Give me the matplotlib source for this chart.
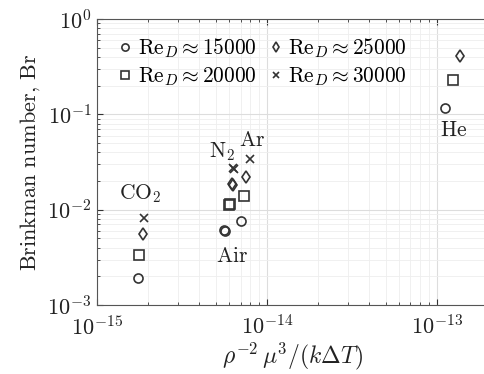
import numpy as np
import matplotlib
matplotlib.use("Agg")
import matplotlib.pyplot as plt

plt.rcParams["font.family"] = "serif"
plt.rcParams["font.serif"] = ["cmr10", "DejaVu Serif"]
plt.rcParams["mathtext.fontset"] = "cm"
plt.rcParams["axes.formatter.use_mathtext"] = True

# Reynolds numbers (one marker style each)
re_values = ["15000", "20000", "25000", "30000"]
markers = ["o", "s", "d", "x"]
msizes = [6.5, 6.5, 6.5, 5.5]

# x = rho^-2 mu^3 / (k dT), y = Brinkman number, one entry per Re
co2_x = [1.74e-15, 1.77e-15, 1.86e-15, 1.89e-15]
co2_y = [1.93e-3, 3.34e-3, 5.54e-3, 8.1e-3]
air_x = [5.6e-15, 6.0e-15, 6.2e-15, 6.3e-15]
air_y = [6.1e-3, 1.13e-2, 1.84e-2, 2.75e-2]
n2_x = [5.7e-15, 6.05e-15, 6.3e-15, 6.4e-15]
n2_y = [6.0e-3, 1.15e-2, 1.8e-2, 2.7e-2]
ar_x = [7.0e-15, 7.3e-15, 7.5e-15, 8.0e-15]
ar_y = [7.6e-3, 1.39e-2, 2.21e-2, 3.4e-2]
he_x = [1.12e-13, 1.24e-13, 1.37e-13, np.nan]
he_y = [0.118, 0.229, 0.409, np.nan]

gases = [(co2_x, co2_y), (air_x, air_y), (n2_x, n2_y), (ar_x, ar_y), (he_x, he_y)]

# gas labels and where they sit
gas_names = [r"$\mathrm{CO}_2$", r"$\mathrm{N}_2$", r"$\mathrm{Ar}$", r"$\mathrm{Air}$", r"$\mathrm{He}$"]
name_x = [1.78e-15, 5.42e-15, 8.13e-15, 6.2e-15, 1.26e-13]
name_y = [1.49e-2, 4.05e-2, 5.37e-2, 3.26e-3, 6.84e-2]

ink = "#333333"

fig = plt.figure(figsize=(4.85, 3.74), dpi=100)
ax = fig.add_axes([0.2, 0.1845, 0.806, 0.7645])

for i, (re, m, ms) in enumerate(zip(re_values, markers, msizes)):
    for j, (gx, gy) in enumerate(gases):
        ax.plot(gx[i], gy[i], linestyle="none", marker=m, markersize=ms,
                markerfacecolor="none", markeredgecolor=ink, markeredgewidth=1.2,
                label=r"$\mathrm{Re}_D \approx %s$" % re if j == 0 else None)

for name, tx, ty in zip(gas_names, name_x, name_y):
    ax.text(tx, ty, name, fontsize=15.5, ha="center", va="center", color="#222222")

ax.set_xscale("log")
ax.set_yscale("log")
ax.set_xlim(1e-15, 2e-13)
ax.set_ylim(1e-3, 1)
ax.set_xticks([1e-15, 1e-14, 1e-13])
ax.set_yticks([1e-3, 1e-2, 1e-1, 1])

ax.grid(True, which="major", color="#dddddd", linewidth=0.8)
ax.grid(True, which="minor", color="#eeeeee", linewidth=0.6)
ax.set_axisbelow(True)
ax.tick_params(which="both", direction="in", top=True, right=False, colors=ink,
               labelsize=16, labelcolor="#222222")
ax.tick_params(which="major", length=4)
ax.tick_params(which="minor", length=2)
ax.tick_params(axis="x", pad=7)
ax.tick_params(axis="y", pad=4)
for s in ax.spines.values():
    s.set_color("#555555")

ax.set_xlabel(r"$\rho^{-2}\,\mu^3/(k\Delta T)$", fontsize=17, color="#222222", labelpad=1)
ax.set_ylabel(r"Brinkman number, $\mathrm{Br}$", fontsize=16, color="#222222")

ax.legend(loc="upper left", ncol=2, frameon=False, fontsize=15.4,
          handletextpad=0.1, columnspacing=0.4, labelspacing=0.25,
          handlelength=1.0, borderaxespad=0.4, markerscale=0.8)

fig.savefig("out.png", dpi=100)
